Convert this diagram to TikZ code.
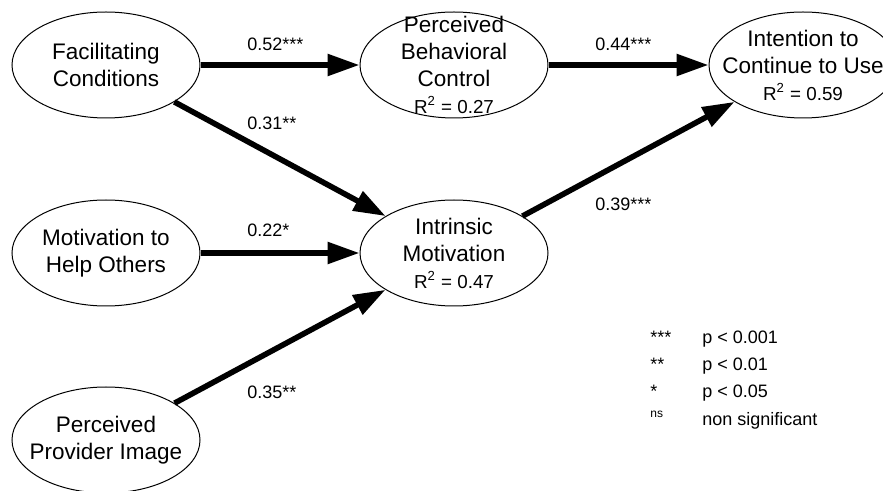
\documentclass[tikz,border=0pt]{standalone}
\usepackage{fontspec}
\setmainfont{Liberation Sans}
\usetikzlibrary{shapes.geometric,arrows.meta}
\newcommand{\rsq}[1]{{\fontsize{9.4}{13.5}\selectfont #1}}
\begin{document}
\begin{tikzpicture}[x=0.5pt,y=-0.5pt,
  latent/.style={draw, ellipse, line width=0.5pt, minimum width=94pt,
                 minimum height=53pt, inner sep=0pt},
  txt/.style={align=center, inner sep=0pt, font=\fontsize{11.25}{13.5}\selectfont},
  coef/.style={anchor=west, inner sep=0pt, font=\fontsize{9}{11}\selectfont},
  leg/.style={anchor=base west, inner sep=0pt, font=\fontsize{9}{11}\selectfont},
  arr/.style={-{Triangle[length=16pt,width=10.5pt]}, line width=2.8pt}
]
  \useasboundingbox (0,0) rectangle (883,491);
  % constructs
  \node[latent] (fc)  at (106,65)  {};
  \node[latent] (mho) at (106,253) {};
  \node[latent] (ppi) at (106,440) {};
  \node[latent] (pbc) at (454,65)  {};
  \node[latent] (im)  at (454,253) {};
  \node[latent] (icu) at (803,65)  {};
  \node[txt] (fc-t)  at (fc)  {Facilitating\\Conditions};
  \node[txt] (mho-t) at (mho) {Motivation to\\Help Others};
  \node[txt] (ppi-t) at (ppi) {Perceived\\Provider Image};
  \node[txt] (pbc-t) at (pbc) {Perceived\\Behavioral\\Control\\\rsq{R\textsuperscript{2} = 0.27}};
  \node[txt] (im-t)  at (im)  {Intrinsic\\Motivation\\\rsq{R\textsuperscript{2} = 0.47}};
  \node[txt] (icu-t) at (icu) {Intention to\\Continue to Use\\\rsq{R\textsuperscript{2} = 0.59}};
  % paths
  \draw[arr] (fc)  -- (pbc);
  \draw[arr] (pbc) -- (icu);
  \draw[arr] (fc)  -- (im);
  \draw[arr] (mho) -- (im);
  \draw[arr] (ppi) -- (im);
  \draw[arr] (im)  -- (icu);
  \node[coef] (b-fc-pbc)  at (247,44)  {0.52***};
  \node[coef] (b-pbc-icu) at (595,44)  {0.44***};
  \node[coef] (b-fc-im)   at (247,123) {0.31**};
  \node[coef] (b-mho-im)  at (247,230) {0.22*};
  \node[coef] (b-ppi-im)  at (247,392) {0.35**};
  \node[coef] (b-im-icu)  at (595,204) {0.39***};
  % legend
  \node[leg] (s3) at (650,344) {***};
  \node[leg] (p3) at (702,344) {p < 0.001};
  \node[leg] (s2) at (650,371) {**};
  \node[leg] (p2) at (702,371) {p < 0.01};
  \node[leg] (s1) at (650,398) {*};
  \node[leg] (p1) at (702,398) {p < 0.05};
  \node[leg] (sn) at (650,425) {\textsuperscript{ns}};
  \node[leg] (pn) at (702,425) {non significant};
\end{tikzpicture}
\end{document}
